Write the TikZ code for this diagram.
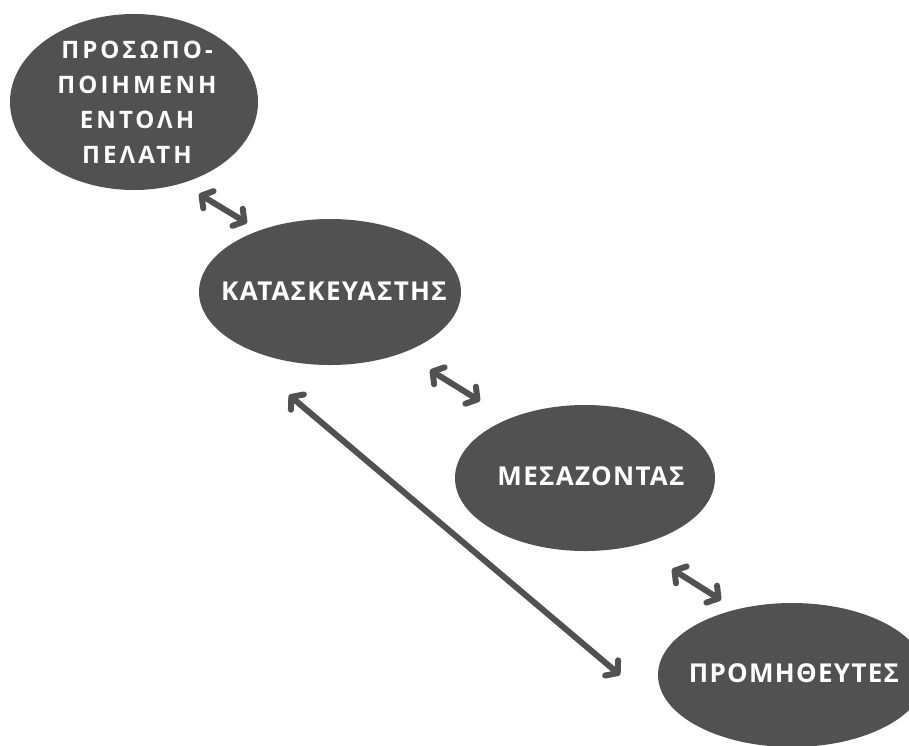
\documentclass[tikz,border=0pt]{standalone}
\usepackage{fontspec}
\setmainfont{Open Sans}
\newfontfamily\labelfont[LetterSpace=5]{Open Sans Bold}
\newfontfamily\widelabelfont[LetterSpace=13]{Open Sans Bold}
\usetikzlibrary{arrows.meta}
\definecolor{ink}{HTML}{515151}
\begin{document}
\begin{tikzpicture}[x=1pt,y=-1pt,
  lbl/.style={text=white, font=\labelfont\fontsize{26}{35}\selectfont, align=center},
  stacklbl/.style={lbl, font=\widelabelfont\fontsize{24}{35}\selectfont},
  barb/.tip={Straight Barb[length=8pt,width=20pt,line cap=round,line join=round]},
  link/.style={draw=ink, line width=6pt, line cap=round, barb-barb}]
\useasboundingbox (0,0) rectangle (909,745);
% the four parties of the chain
\fill[ink] (134,102) ellipse [x radius=124, y radius=88];
\fill[ink] (330,292) ellipse [x radius=131, y radius=73];
\fill[ink] (585,478) ellipse [x radius=130, y radius=73];
\fill[ink] (792,675) ellipse [x radius=134, y radius=72];
\node[stacklbl] (client) at (137,102) {ΠΡΟΣΩΠΟ-\\ΠΟΙΗΜΕΝΗ\\ΕΝΤΟΛΗ\\ΠΕΛΑΤΗ};
\node[lbl] (maker) at (334,291) {ΚΑΤΑΣΚΕΥΑΣΤΗΣ};
\node[lbl] (broker) at (591,476) {ΜΕΣΑΖΟΝΤΑΣ};
\node[lbl] (supplier) at (794,673) {ΠΡΟΜΗΘΕΥΤΕΣ};
% two-way links between neighbours
\coordinate (a1) at (199,194); \coordinate (a2) at (247,223);
\coordinate (b1) at (430,370); \coordinate (b2) at (480,401);
\coordinate (c1) at (672,569); \coordinate (c2) at (721,600);
\coordinate (d1) at (289,395); \coordinate (d2) at (620,675);
\draw[link] (a1) -- (a2);
\draw[link] (b1) -- (b2);
\draw[link] (c1) -- (c2);
\draw[link] (d1) -- (d2);
\end{tikzpicture}
\end{document}
